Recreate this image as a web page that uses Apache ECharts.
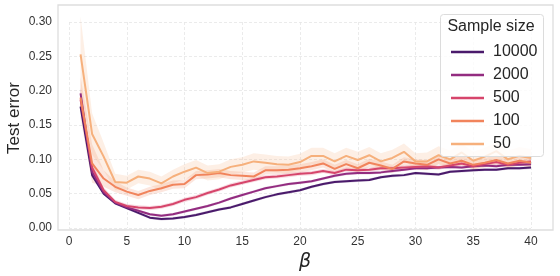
<!DOCTYPE html>
<html>
<head>
<meta charset="utf-8">
<script src="https://cdn.jsdelivr.net/npm/echarts@6/dist/echarts.min.js"></script>
<style>html,body{margin:0;padding:0;background:#fff}#c{width:560px;height:276px}</style>
</head>
<body>
<div id="c"></div>
<script>
const beta = [1,2,3,4,5,6,7,8,9,10,11,12,13,14,15,16,17,18,19,20,21,22,23,24,25,26,27,28,29,30,31,32,33,34,35,36,37,38,39,40];
const sampleSizes = ['10000','2000','500','100','50'];
const err10000 = [0.177,0.077,0.050,0.036,0.029,0.022,0.015,0.013,0.014,0.016,0.019,0.023,0.027,0.030,0.035,0.040,0.045,0.049,0.052,0.055,0.060,0.064,0.067,0.068,0.069,0.070,0.074,0.076,0.077,0.080,0.079,0.078,0.082,0.083,0.084,0.085,0.085,0.087,0.087,0.088];
const err2000 = [0.196,0.082,0.052,0.037,0.030,0.025,0.020,0.018,0.020,0.024,0.028,0.032,0.037,0.043,0.048,0.053,0.058,0.061,0.064,0.066,0.068,0.072,0.076,0.079,0.080,0.080,0.081,0.083,0.085,0.087,0.087,0.088,0.089,0.088,0.090,0.091,0.090,0.092,0.092,0.093];
const err500 = [0.187,0.088,0.055,0.038,0.032,0.030,0.029,0.031,0.035,0.041,0.045,0.051,0.056,0.062,0.066,0.070,0.074,0.075,0.077,0.079,0.080,0.083,0.080,0.085,0.084,0.085,0.087,0.087,0.088,0.089,0.090,0.088,0.091,0.094,0.090,0.093,0.096,0.092,0.095,0.097];
const err100 = [0.190,0.094,0.072,0.060,0.053,0.048,0.054,0.058,0.063,0.064,0.077,0.078,0.080,0.077,0.076,0.075,0.084,0.084,0.085,0.087,0.090,0.094,0.086,0.093,0.087,0.095,0.091,0.086,0.097,0.094,0.092,0.100,0.094,0.098,0.092,0.095,0.099,0.094,0.098,0.095];
const err50 = [0.253,0.137,0.104,0.067,0.066,0.075,0.072,0.065,0.075,0.082,0.088,0.080,0.082,0.089,0.092,0.097,0.095,0.093,0.092,0.096,0.105,0.105,0.097,0.105,0.099,0.106,0.097,0.102,0.111,0.097,0.097,0.106,0.100,0.110,0.098,0.104,0.112,0.100,0.105,0.102];
// confidence band half-widths read from the shaded areas
const ci10000 = [0.006,0.003,0.002,0.002,0.002,0.002,0.002,0.002,0.002,0.002,0.002,0.002,0.002,0.002,0.002,0.002,0.002,0.002,0.002,0.002,0.002,0.002,0.002,0.002,0.002,0.002,0.002,0.002,0.002,0.002,0.002,0.002,0.002,0.002,0.002,0.002,0.002,0.002,0.002,0.002];
const ci2000 = [0.008,0.004,0.003,0.002,0.002,0.002,0.002,0.002,0.002,0.002,0.002,0.002,0.002,0.002,0.002,0.002,0.002,0.002,0.002,0.002,0.002,0.002,0.002,0.002,0.002,0.002,0.002,0.002,0.002,0.002,0.002,0.002,0.002,0.002,0.002,0.002,0.002,0.002,0.002,0.002];
const ci500 = [0.012,0.007,0.004,0.003,0.003,0.003,0.003,0.003,0.003,0.003,0.003,0.003,0.003,0.003,0.003,0.003,0.003,0.003,0.003,0.003,0.003,0.003,0.003,0.003,0.003,0.003,0.003,0.003,0.003,0.003,0.003,0.003,0.003,0.003,0.003,0.003,0.003,0.003,0.003,0.003];
const ci100 = [0.030,0.028,0.012,0.008,0.006,0.006,0.006,0.006,0.006,0.006,0.006,0.006,0.006,0.006,0.006,0.006,0.006,0.006,0.006,0.006,0.006,0.006,0.006,0.006,0.006,0.006,0.006,0.006,0.006,0.006,0.007,0.007,0.007,0.007,0.007,0.007,0.007,0.007,0.007,0.007];
const ci50 = [0.055,0.030,0.020,0.012,0.010,0.010,0.010,0.010,0.010,0.011,0.011,0.011,0.011,0.011,0.011,0.012,0.012,0.012,0.012,0.012,0.012,0.012,0.012,0.012,0.012,0.012,0.012,0.012,0.012,0.012,0.013,0.013,0.013,0.013,0.013,0.013,0.013,0.013,0.013,0.013];
const xTicks = [0,5,10,15,20,25,30,35,40];
const yTicks = ['0.00','0.05','0.10','0.15','0.20','0.25','0.30'];

const colors = ['#4a1a6b','#932c80','#d6456b','#f1845c','#f6b07c'];
const means = [err10000, err2000, err500, err100, err50];
const cis = [ci10000, ci2000, ci500, ci100, ci50];
const FONT = '"Liberation Sans", Arial, sans-serif';

function hexA(hex, a){
  const n = parseInt(hex.slice(1),16);
  return `rgba(${(n>>16)&255},${(n>>8)&255},${n&255},${a})`;
}

const series = [];
means.forEach((m, i) => {
  const rows = beta.map((b,k)=>[b, m[k]-cis[i][k], m[k]+cis[i][k]]);
  series.push({
    type:'custom', name:'_band'+i, silent:true, clip:false, z:1,
    data: rows,
    encode:{x:0, y:[1,2]},
    renderItem: function(params, api){
      if (params.dataIndex !== 0) return null;
      const up = [], lo = [];
      rows.forEach(r => { up.push(api.coord([r[0], r[2]])); lo.push(api.coord([r[0], r[1]])); });
      return {type:'polygon', shape:{points: up.concat(lo.reverse())},
        style:{fill:hexA(colors[i],0.2), stroke:null}};
    }
  });
});
means.forEach((m, i) => {
  series.push({
    type:'line', name:sampleSizes[i], symbol:'none', clip:false,
    lineStyle:{color:colors[i], width:2}, itemStyle:{color:colors[i]},
    data: beta.map((b,k)=>[b, m[k]]), z:3
  });
});

const chart = echarts.init(document.getElementById('c'), null, {renderer:'canvas'});
chart.setOption({
  animation:false,
  backgroundColor:'#ffffff',
  grid:{left:69, right:29, top:22, bottom:48, containLabel:false},
  xAxis:{
    type:'value', min:0, max:40, interval:5,
    axisLine:{show:false}, axisTick:{show:false},
    axisLabel:{fontFamily:FONT, fontSize:12, color:'#333', margin:8,
      formatter:v=> xTicks.indexOf(v)>=0 ? String(v) : ''},
    splitLine:{show:true, lineStyle:{color:'#e6e6e6', type:[3,2], width:0.8}}
  },
  yAxis:{
    type:'value', min:0, max:0.30, interval:0.05,
    axisLine:{show:false}, axisTick:{show:false},
    axisLabel:{fontFamily:FONT, fontSize:12, color:'#333', margin:17,
      formatter:v=> yTicks[Math.round(v/0.05)] || ''},
    splitLine:{show:true, lineStyle:{color:'#e6e6e6', type:[3,2], width:0.8}}
  },
  legend:{
    data: sampleSizes, orient:'vertical', left:446, top:39,
    itemWidth:33, itemHeight:2.5, icon:'rect', itemGap:7,
    textStyle:{fontFamily:FONT, fontSize:16, color:'#262626', lineHeight:16, padding:[0,0,0,4]},
    z:100
  },
  graphic:{elements:[
    {type:'rect', shape:{x:58, y:5, width:495, height:225}, style:{fill:'none', stroke:'#dedede', lineWidth:1.3}, z:0, silent:true},
    {type:'rect', shape:{x:440.5, y:14.5, width:103, height:142, r:3}, style:{fill:'rgba(255,255,255,0.8)', stroke:'#dcdcdc', lineWidth:1}, z:50, silent:true},
    {type:'text', x:491, y:27, style:{text:'Sample size', font:'16px '+FONT, fill:'#262626', textAlign:'center', textVerticalAlign:'middle'}, z:60},
    {type:'text', x:14, y:118, rotation:Math.PI/2, style:{text:'Test error', font:'17px '+FONT, fill:'#262626', textAlign:'center', textVerticalAlign:'middle'}, z:60},
    {type:'text', x:305, y:262, style:{text:'β', font:'italic 19px "DejaVu Sans", sans-serif', fill:'#262626', textAlign:'center', textVerticalAlign:'middle'}, z:60}
  ]},
  series: series
});
</script>
</body>
</html>
